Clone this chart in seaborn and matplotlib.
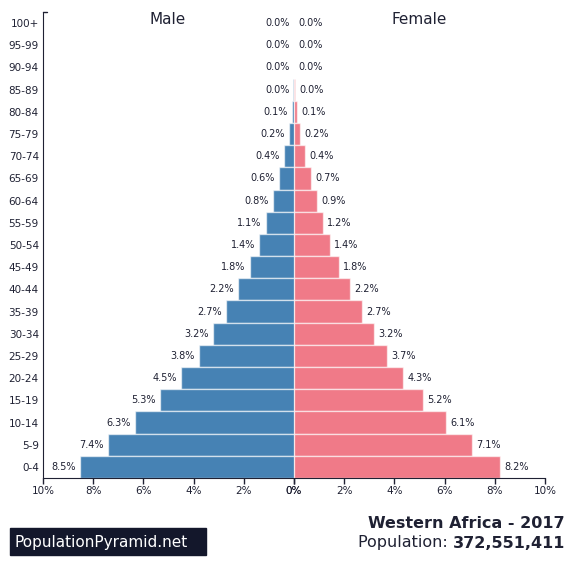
import numpy as np
import pandas as pd
import matplotlib
matplotlib.use("Agg")
import matplotlib.pyplot as plt
import seaborn as sns

ages = ["0-4", "5-9", "10-14", "15-19", "20-24", "25-29", "30-34", "35-39",
        "40-44", "45-49", "50-54", "55-59", "60-64", "65-69", "70-74",
        "75-79", "80-84", "85-89", "90-94", "95-99", "100+"]
male = [8.53, 7.41, 6.33, 5.34, 4.50, 3.78, 3.23, 2.71, 2.23, 1.77, 1.39,
        1.12, 0.84, 0.60, 0.40, 0.20, 0.08, 0.02, 0.004, 0.0005, 0.0]
female = [8.20, 7.09, 6.06, 5.15, 4.34, 3.70, 3.19, 2.71, 2.23, 1.79, 1.43,
          1.16, 0.92, 0.68, 0.44, 0.24, 0.12, 0.03, 0.006, 0.001, 0.0]

MALE_C = "#4682B4"
FEMALE_C = "#F07A88"
TEXT_C = "#1f2133"

df = pd.DataFrame({"age": ages, "male": male, "female": female})
order = ages[::-1]

sns.set_style("white")
plt.rcParams["font.family"] = ["DejaVu Sans"]

fig = plt.figure(figsize=(5.75, 5.81), dpi=100)
W, H = 575, 581
ax_l = fig.add_axes([43 / W, 1 - 478 / H, 251 / W, 466 / H])
ax_r = fig.add_axes([294 / W, 1 - 478 / H, 251 / W, 466 / H])

sns.barplot(data=df, x="male", y="age", order=order, color=MALE_C, ax=ax_l,
            width=1.0, edgecolor=(1, 1, 1, 0.6), linewidth=1, saturation=1)
sns.barplot(data=df, x="female", y="age", order=order, color=FEMALE_C, ax=ax_r,
            width=1.0, edgecolor=(1, 1, 1, 0.6), linewidth=1, saturation=1)

ax_l.set_xlim(10, 0)
ax_r.set_xlim(0, 10)
for ax in (ax_l, ax_r):
    ax.set_ylim(len(ages) - 0.5, -0.5)
    ax.set_xlabel("")
    ax.set_ylabel("")
    ax.set_xticks(np.arange(0, 11, 2))
    ax.set_xticklabels([f"{t}%" for t in range(0, 11, 2)], color=TEXT_C, fontsize=7.5)
    ax.tick_params(axis="x", length=4, width=1, color=TEXT_C, pad=2, bottom=True)
    for s in ax.spines.values():
        s.set_visible(False)
    ax.spines["bottom"].set_visible(True)
    ax.spines["bottom"].set_color(TEXT_C)

ax_l.spines["left"].set_visible(True)
ax_l.spines["left"].set_color(TEXT_C)
ax_l.tick_params(axis="y", length=0, pad=3, labelsize=7.5, labelcolor=TEXT_C, left=True)
ax_l.plot([0, 0.015], [1, 1], transform=ax_l.transAxes, color=TEXT_C, lw=1, clip_on=False)
ax_r.set_yticks([])

for i, a in enumerate(order):
    m = df.loc[df.age == a, "male"].iloc[0]
    f = df.loc[df.age == a, "female"].iloc[0]
    ax_l.annotate(f"{m:.1f}%", (m, i), xytext=(-3, 0), textcoords="offset points",
                  ha="right", va="center", fontsize=7, color=TEXT_C)
    ax_r.annotate(f"{f:.1f}%", (f, i), xytext=(3, 0), textcoords="offset points",
                  ha="left", va="center", fontsize=7, color=TEXT_C)

fig.text(168 / W, 1 - 19 / H, "Male", ha="center", va="center", fontsize=11, color=TEXT_C)
fig.text(419 / W, 1 - 19 / H, "Female", ha="center", va="center", fontsize=11, color=TEXT_C)

fig.text(565 / W, 1 - 524 / H, "Western Africa - 2017", ha="right", va="center",
         fontsize=11.5, fontweight="bold", color=TEXT_C)
num = fig.text(565 / W, 1 - 543 / H, "372,551,411", ha="right", va="center",
               fontsize=11.5, fontweight="bold", color=TEXT_C)
fig.canvas.draw()
bb = num.get_window_extent(renderer=fig.canvas.get_renderer())
fig.text(bb.x0 / W, 1 - 543 / H, "Population: ", ha="right", va="center",
         fontsize=11.5, color=TEXT_C)

fig.patches.append(plt.Rectangle((10 / W, 1 - 555 / H), 196 / W, 27 / H,
                                 transform=fig.transFigure, color="#13172b", zorder=0))
fig.text(14 / W, 1 - 542 / H, "PopulationPyramid.net", ha="left", va="center",
         fontsize=11, color="white")

fig.savefig("out.png", dpi=100)
